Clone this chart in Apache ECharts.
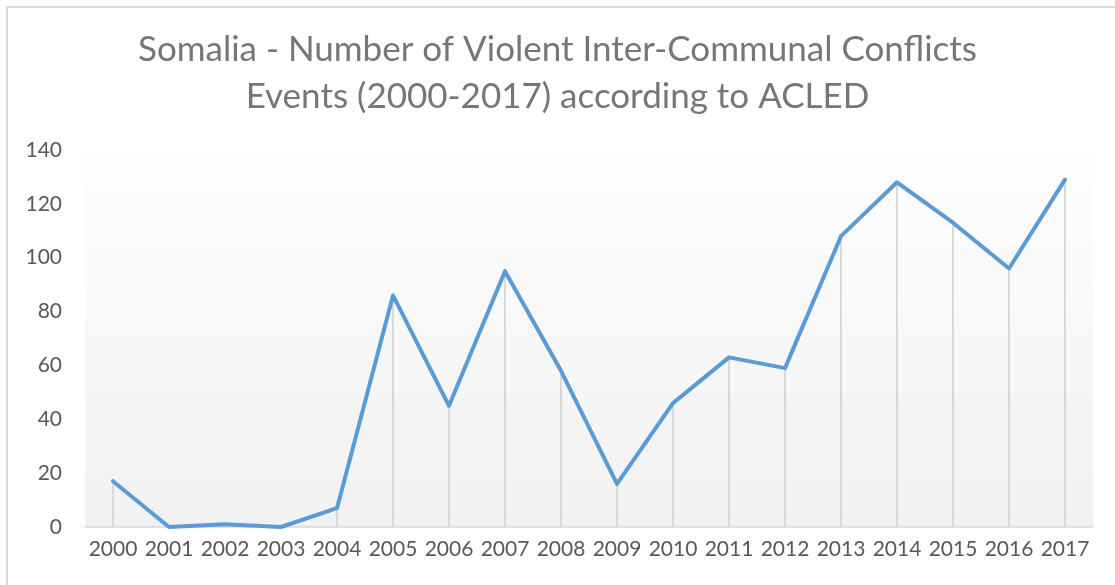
<!DOCTYPE html>
<html>
<head>
<meta charset="utf-8">
<script src="https://cdn.jsdelivr.net/npm/echarts@6/dist/echarts.min.js"></script>
<style>
html,body{margin:0;padding:0;background:#fff;}
#c{width:1115px;height:585px;}
</style>
</head>
<body>
<div id="c"></div>
<script>
var titleText = 'Somalia - Number of Violent Inter-Communal Conflicts\nEvents (2000-2017) according to ACLED';
var years = ['2000','2001','2002','2003','2004','2005','2006','2007','2008','2009','2010','2011','2012','2013','2014','2015','2016','2017'];
var events = [17, 0, 1, 0, 7, 86, 45, 95, 58, 16, 46, 63, 59, 108, 128, 113, 96, 129];

var chart = echarts.init(document.getElementById('c'), null, {renderer: 'canvas'});
var FONT = 'Lato, "Open Sans", sans-serif';
chart.setOption({
  animation: false,
  backgroundColor: '#ffffff',
  title: {
    text: titleText,
    left: 'center',
    top: 21,
    textStyle: {
      color: '#767676',
      fontFamily: FONT,
      fontWeight: 'normal',
      fontSize: 35,
      lineHeight: 47
    }
  },
  graphic: [
    {type: 'line', shape: {x1: 7, y1: 7, x2: 1115, y2: 7}, style: {stroke: '#d9d9d9', lineWidth: 2}},
    {type: 'line', shape: {x1: 7, y1: 7, x2: 7, y2: 585}, style: {stroke: '#d9d9d9', lineWidth: 2}}
  ],
  grid: {
    left: 85,
    right: 22,
    top: 150,
    bottom: 58,
    show: true,
    borderWidth: 0,
    backgroundColor: new echarts.graphic.LinearGradient(0, 0, 0, 1, [
      {offset: 0, color: '#fefefe'},
      {offset: 1, color: '#f1f1f1'}
    ])
  },
  xAxis: {
    type: 'category',
    data: years,
    boundaryGap: true,
    axisLine: {lineStyle: {color: '#d9d9d9', width: 1.5}},
    axisTick: {show: false},
    axisLabel: {color: '#595959', fontFamily: FONT, fontSize: 21, margin: 12, interval: 0, hideOverlap: false}
  },
  yAxis: {
    type: 'value',
    min: 0,
    max: 140,
    interval: 20,
    axisLine: {show: false},
    axisTick: {show: false},
    splitLine: {show: false},
    axisLabel: {color: '#595959', fontFamily: FONT, fontSize: 21, margin: 23}
  },
  series: [
    {
      type: 'bar',
      data: events,
      barWidth: 2,
      itemStyle: {color: '#d9d9d9'},
      silent: true,
      z: 1
    },
    {
      type: 'line',
      data: events,
      symbol: 'none',
      lineStyle: {color: '#5b9bd5', width: 4, cap: 'round', join: 'round'},
      z: 3
    }
  ]
});
</script>
</body>
</html>
